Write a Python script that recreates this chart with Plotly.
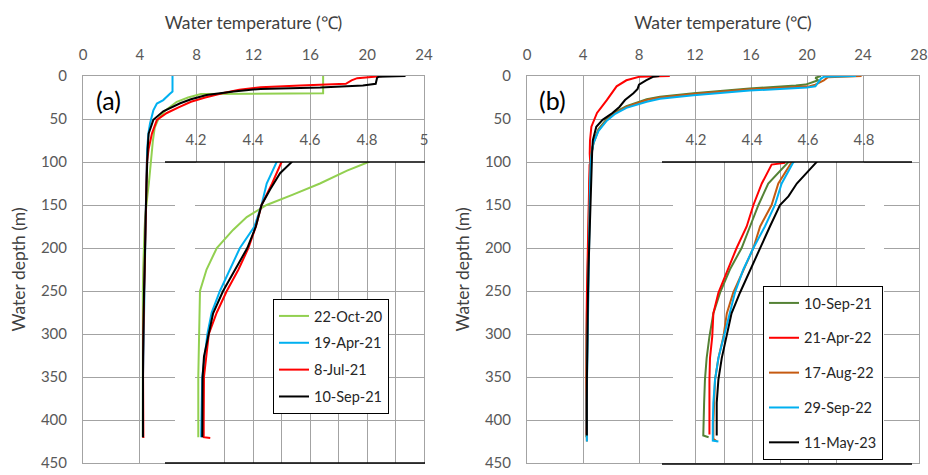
import plotly.graph_objects as go

W, H = 928, 475

# ---------------- data: panel (a) ----------------
a_names = ["22-Oct-20", "19-Apr-21", "8-Jul-21", "10-Sep-21"]
a_colors = ["#92d050", "#00b0f0", "#ff0000", "#000000"]

a1_depth = [0, 19, 20, 21, 25, 30, 40, 50, 60, 75, 90, 100, 110, 125, 138, 150, 164, 179, 200, 225, 250, 300, 350, 420]
a1_temp = [16.9, 16.9, 16.9, 8.3, 7.4, 6.6, 5.8, 5.3, 5.05, 4.92, 4.85, 4.805, 4.73, 4.635, 4.54, 4.448, 4.378, 4.33, 4.273, 4.237, 4.214, 4.21, 4.208, 4.208]

a2_depth = [0, 18, 21, 28, 32, 40, 55, 67, 85, 100, 125, 150, 175, 200, 225, 250, 275, 300, 350, 400, 420]
a2_temp = [6.3, 6.3, 6.1, 5.65, 5.2, 4.95, 4.72, 4.6, 4.52, 4.483, 4.448, 4.43, 4.405, 4.354, 4.32, 4.284, 4.255, 4.24, 4.222, 4.218, 4.218]

a3_depth = [0, 2.5, 5, 9, 11, 13, 16, 20, 25, 30, 36, 43, 51, 67, 85, 100, 125, 150, 175, 200, 225, 250, 275, 300, 350, 400, 420, 421]
a3_temp = [21.1, 19.3, 18.9, 18.5, 15.3, 12.5, 11.0, 9.8, 8.6, 7.6, 6.8, 5.9, 5.2, 4.85, 4.62, 4.5, 4.467, 4.43, 4.41, 4.384, 4.349, 4.308, 4.273, 4.245, 4.228, 4.227, 4.227, 4.25]

a4_depth = [0, 1, 2, 9, 11, 12.5, 13.5, 15, 18, 22, 27, 32, 41, 51, 67, 85, 100, 113, 132, 150, 175, 200, 225, 250, 276, 301, 326, 351, 400, 420]
a4_temp = [22.7, 20.8, 20.7, 20.6, 19.7, 18.0, 16.7, 12.5, 10.6, 8.7, 7.6, 6.8, 5.65, 4.95, 4.62, 4.55, 4.536, 4.495, 4.46, 4.43, 4.41, 4.38, 4.337, 4.295, 4.26, 4.243, 4.228, 4.223, 4.222, 4.222]

a_depths = [a1_depth, a2_depth, a3_depth, a4_depth]
a_temps = [a1_temp, a2_temp, a3_temp, a4_temp]

# ---------------- data: panel (b) ----------------
b_names = ["10-Sep-21", "21-Apr-22", "17-Aug-22", "29-Sep-22", "11-May-23"]
b_colors = ["#548235", "#ff0000", "#c55a11", "#00b0f0", "#000000"]

b1_depth = [0, 2, 5, 8, 10, 11, 14.5, 20, 24, 27, 35, 42, 50, 62, 77, 90, 100, 125, 150, 175, 200, 225, 252, 276, 303, 328, 353, 380, 404, 418, 420]
b1_temp = [21.0, 20.6, 20.8, 20.3, 19.9, 19.2, 15.9, 11.9, 9.5, 8.55, 7.1, 6.3, 5.7, 5.1, 4.75, 4.6, 4.53, 4.458, 4.423, 4.393, 4.363, 4.321, 4.286, 4.262, 4.248, 4.238, 4.232, 4.229, 4.226, 4.226, 4.245]

b2_depth = [0, 1, 5, 12, 28, 43, 59, 75, 90, 101, 103, 125, 150, 175, 200, 225, 252, 276, 303, 328, 353, 404, 417]
b2_temp = [10.2, 8.0, 7.1, 6.4, 5.7, 5.0, 4.6, 4.5, 4.48, 4.518, 4.47, 4.435, 4.405, 4.381, 4.345, 4.315, 4.28, 4.262, 4.258, 4.25, 4.248, 4.248, 4.248]

b3_depth = [0, 1.5, 5, 10, 12, 15.5, 21, 25, 28, 36, 43, 51, 63, 78, 90, 100, 125, 150, 175, 200, 225, 252, 276, 303, 328, 353, 404, 422, 425]
b3_temp = [23.9, 21.5, 21.2, 20.6, 20.2, 15.9, 11.9, 9.5, 8.55, 7.1, 6.3, 5.7, 5.1, 4.75, 4.6, 4.542, 4.494, 4.47, 4.429, 4.405, 4.369, 4.333, 4.31, 4.298, 4.28, 4.268, 4.262, 4.262, 4.275]

b4_depth = [0, 1, 3, 8, 12, 13.5, 17, 22.5, 26.5, 30, 37, 44, 52, 64, 78, 90, 100, 125, 150, 175, 200, 225, 252, 276, 303, 328, 353, 380, 404, 424, 425]
b4_temp = [23.5, 21.2, 21.0, 20.8, 20.6, 20.0, 15.9, 11.9, 9.5, 8.55, 7.1, 6.3, 5.7, 5.1, 4.75, 4.62, 4.548, 4.506, 4.482, 4.446, 4.405, 4.369, 4.339, 4.321, 4.298, 4.28, 4.268, 4.262, 4.26, 4.26, 4.28]

b5_depth = [0, 1, 5, 10, 15, 20, 28, 36, 43, 51, 59, 75, 90, 100, 113, 125, 140, 150, 175, 200, 225, 252, 276, 303, 328, 353, 380, 418]
b5_temp = [9.45, 9.0, 8.5, 8.0, 7.9, 7.6, 7.0, 6.6, 6.1, 5.4, 4.95, 4.7, 4.65, 4.631, 4.595, 4.56, 4.53, 4.5, 4.464, 4.429, 4.393, 4.357, 4.327, 4.31, 4.292, 4.28, 4.274, 4.274]

b_depths = [b1_depth, b2_depth, b3_depth, b4_depth, b5_depth]
b_temps = [b1_temp, b2_temp, b3_temp, b4_temp, b5_temp]

# axis tick settings
a_main_ticks = [0, 4, 8, 12, 16, 20, 24]
b_main_ticks = [0, 4, 8, 12, 16, 20, 24, 28]
depth_ticks = [0, 50, 100, 150, 200, 250, 300, 350, 400, 450]
inset_depth_grid = [150, 200, 250, 300, 350, 400]
a_inset_vals = [4.2, 4.3, 4.4, 4.5, 4.6, 4.7, 4.8, 4.9, 5.0]
a_inset_text = ["4.2", "", "4.4", "", "4.6", "", "4.8", "", "5"]
b_inset_vals = [4.2, 4.3, 4.4, 4.5, 4.6, 4.7, 4.8]
b_inset_text = ["4.2", "", "4.4", "", "4.6", "", "4.8"]

FONT = "Lato"
GRID = "#a3a3a3"
TICKC = "#595959"

def fx(p):
    return p / W

def fy(p):
    return 1 - p / H

fig = go.Figure()

for i in range(len(a_names)):
    fig.add_trace(go.Scatter(x=a_temps[i], y=a_depths[i], mode="lines", name=a_names[i],
                             line=dict(color=a_colors[i], width=2), xaxis="x", yaxis="y",
                             legend="legend", legendgroup="a%d" % i))
for i in range(len(a_names)):
    fig.add_trace(go.Scatter(x=a_temps[i], y=a_depths[i], mode="lines", name=a_names[i],
                             line=dict(color=a_colors[i], width=2), xaxis="x3", yaxis="y3",
                             showlegend=False))
for i in range(len(b_names)):
    fig.add_trace(go.Scatter(x=b_temps[i], y=b_depths[i], mode="lines", name=b_names[i],
                             line=dict(color=b_colors[i], width=2), xaxis="x2", yaxis="y2",
                             legend="legend2", legendgroup="b%d" % i))
for i in range(len(b_names)):
    fig.add_trace(go.Scatter(x=b_temps[i], y=b_depths[i], mode="lines", name=b_names[i],
                             line=dict(color=b_colors[i], width=2), xaxis="x4", yaxis="y4",
                             showlegend=False))

tickfont = dict(family=FONT, size=15, color=TICKC)
titlefont = dict(family=FONT, size=17.5, color="#404040")

main_y_dom = [fy(463), fy(76)]
inset_y_dom = [fy(463), fy(162)]

def main_x(dom, rng, ticks, anchor):
    return dict(domain=dom, range=rng, tickvals=ticks, side="top", showgrid=True,
                gridcolor=GRID, gridwidth=1, zeroline=False, showline=True, linecolor=GRID,
                linewidth=1, mirror=True, ticks="", tickfont=tickfont, ticklabelstandoff=9,
                automargin=False, anchor=anchor,
                title=dict(text="Water temperature (℃)", font=titlefont, standoff=10))

def main_y(anchor):
    return dict(domain=main_y_dom, range=[450, 0], tickvals=depth_ticks, showgrid=True,
                gridcolor=GRID, gridwidth=1, zeroline=False, showline=True, linecolor=GRID,
                linewidth=1, mirror=True, ticks="", tickfont=tickfont, ticklabelstandoff=12,
                anchor=anchor, automargin=False,
                title=dict(text="Water depth (m)", font=titlefont, standoff=10))

def inset_x(dom, rng, vals, text, anchor):
    return dict(domain=dom, range=rng, tickvals=vals, ticktext=text, side="top",
                showgrid=True, gridcolor=GRID, gridwidth=1, zeroline=False, showline=False,
                ticks="", tickfont=tickfont, ticklabelstandoff=13, anchor=anchor,
                automargin=False)

def inset_y(anchor):
    return dict(domain=inset_y_dom, range=[450, 100], tickvals=inset_depth_grid,
                showticklabels=False, showgrid=True, gridcolor=GRID, gridwidth=1,
                zeroline=False, showline=False, ticks="", anchor=anchor, automargin=False)

shapes = []
# white margins of the inset boxes
for x0, x1 in [(175, 195), (673, 695), (865, 884)]:
    shapes.append(dict(type="rect", xref="paper", yref="paper", x0=fx(x0), x1=fx(x1),
                       y0=fy(462), y1=fy(163), fillcolor="white", line=dict(width=0),
                       layer="above"))
# black frame lines of the insets
for x0, x1, yp in [(165, 425, 162), (165, 425, 463), (662, 912, 162), (662, 912, 464)]:
    shapes.append(dict(type="line", xref="paper", yref="paper", x0=fx(x0), x1=fx(x1),
                       y0=fy(yp), y1=fy(yp), line=dict(color="black", width=1.5),
                       layer="above"))

legfont = dict(family=FONT, size=14.5, color="#262626")

fig.update_layout(
    template="none",
    width=W, height=H,
    margin=dict(l=0, r=0, t=0, b=0, pad=0, autoexpand=False),
    paper_bgcolor="white", plot_bgcolor="white",
    xaxis=main_x([fx(83), fx(424)], [0, 24], a_main_ticks, "y"),
    yaxis=main_y("x"),
    xaxis2=main_x([fx(527), fx(919)], [0, 28], b_main_ticks, "y2"),
    yaxis2=main_y("x2"),
    xaxis3=inset_x([fx(196), fx(424)], [4.2, 5.0], a_inset_vals, a_inset_text, "y3"),
    yaxis3=inset_y("x3"),
    xaxis4=inset_x([fx(696), fx(864)], [4.2, 4.8], b_inset_vals, b_inset_text, "y4"),
    yaxis4=inset_y("x4"),
    shapes=shapes,
    legend=dict(x=fx(273), y=fy(299), xanchor="left", yanchor="top", bgcolor="white",
                bordercolor="black", borderwidth=1, font=legfont, tracegroupgap=5,
                traceorder="grouped"),
    legend2=dict(x=fx(763), y=fy(286), xanchor="left", yanchor="top", bgcolor="white",
                 bordercolor="black", borderwidth=1, font=legfont, tracegroupgap=13,
                 traceorder="grouped"),
    annotations=[
        dict(text="(a)", x=fx(108), y=fy(100), xref="paper", yref="paper", showarrow=False,
             xanchor="center", yanchor="middle", font=dict(family=FONT, size=25, color="black")),
        dict(text="(b)", x=fx(552), y=fy(100), xref="paper", yref="paper", showarrow=False,
             xanchor="center", yanchor="middle", font=dict(family=FONT, size=25, color="black")),
    ],
    showlegend=True,
)

fig.write_html("out.html")
